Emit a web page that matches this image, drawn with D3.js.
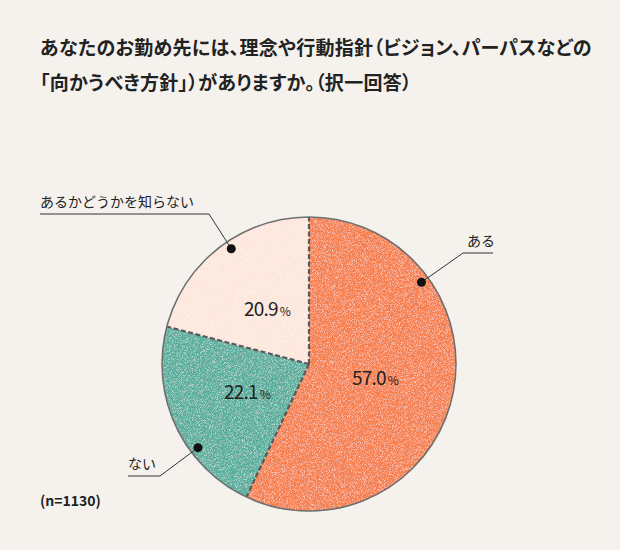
<!DOCTYPE html>
<html>
<head>
<meta charset="utf-8">
<script src="https://cdn.jsdelivr.net/npm/d3@7"></script>
<style>
  body { margin: 0; background: #f5f2ed; }
  text { font-family: "Noto Sans CJK JP", "Noto Sans", sans-serif; }
  .title { font-feature-settings: "palt"; }
</style>
</head>
<body>
<div class="chart"></div>
<script>
var categories = ["ある", "ない", "あるかどうかを知らない"];
var values = [57.0, 22.1, 20.9];
var colors = ["#f57f4e", "#58ae9c", "#fde6dc"];
var titleLines = [
  "あなたのお勤め先には、理念や行動指針（ビジョン、パーパスなどの",
  "「向かうべき方針」）がありますか。（択一回答）"
];
var note = "(n=1130)";

var svgWidth = 620;
var svgHeight = 550;
var cx = 309, cy = 364, radius = 147;

var svg = d3.select(".chart")
  .append("svg")
  .attr("width", svgWidth)
  .attr("height", svgHeight);

svg.append("rect")
  .attr("width", svgWidth)
  .attr("height", svgHeight)
  .attr("fill", "#f5f2ed");

// grain texture for the slices
var defs = svg.append("defs");
var grain = defs.append("filter").attr("id", "grain")
  .attr("x", 0).attr("y", 0).attr("width", "100%").attr("height", "100%");
grain.append("feTurbulence")
  .attr("type", "fractalNoise")
  .attr("baseFrequency", 1.4)
  .attr("numOctaves", 2)
  .attr("seed", 3)
  .attr("result", "noise");
grain.append("feColorMatrix")
  .attr("in", "noise")
  .attr("type", "matrix")
  .attr("values", "0 0 0 0 1  0 0 0 0 1  0 0 0 0 1  2.6 0 0 0 -1.2")
  .attr("result", "speck");
grain.append("feComposite")
  .attr("in", "speck").attr("in2", "SourceGraphic")
  .attr("operator", "in").attr("result", "speckIn");
grain.append("feComponentTransfer").attr("in", "speckIn").attr("result", "speckSoft")
  .append("feFuncA").attr("type", "linear").attr("slope", 0.55);
var merge = grain.append("feMerge");
merge.append("feMergeNode").attr("in", "SourceGraphic");
merge.append("feMergeNode").attr("in", "speckSoft");

// title
svg.append("g").selectAll("text")
  .data(titleLines)
  .enter()
  .append("text")
  .attr("class", "title")
  .attr("x", 40)
  .attr("y", (d, i) => 55 + i * 35)
  .attr("font-size", 19)
  .attr("letter-spacing", 0.3)
  .attr("font-weight", "bold")
  .attr("fill", "#222")
  .text(d => d);

var data = categories.map((c, i) => ({ name: c, value: values[i], color: colors[i] }));

var pie = d3.pie().sort(null).value(d => d.value);
var arcs = pie(data);
var arc = d3.arc().innerRadius(0).outerRadius(radius);
var labelArc = d3.arc().innerRadius(68).outerRadius(68);

var chartGroup = svg.append("g")
  .attr("transform", `translate(${cx}, ${cy})`);

chartGroup.selectAll("path.slice")
  .data(arcs)
  .enter()
  .append("path")
  .attr("class", "slice")
  .attr("d", arc)
  .attr("fill", d => d.data.color)
  .attr("filter", "url(#grain)");

// dashed dividers
chartGroup.selectAll("line.divider")
  .data(arcs)
  .enter()
  .append("line")
  .attr("class", "divider")
  .attr("x1", 0).attr("y1", 0)
  .attr("x2", d => radius * Math.sin(d.startAngle))
  .attr("y2", d => -radius * Math.cos(d.startAngle))
  .attr("stroke", "#5a5a5a")
  .attr("stroke-width", 2.2)
  .attr("stroke-dasharray", "5,2.5");

chartGroup.append("circle")
  .attr("r", radius)
  .attr("fill", "none")
  .attr("stroke", "#6e6e6e")
  .attr("stroke-width", 1.5);

// percentage labels
var pct = chartGroup.selectAll("text.pct")
  .data(arcs)
  .enter()
  .append("text")
  .attr("class", "pct")
  .attr("transform", d => `translate(${labelArc.centroid(d)})`)
  .attr("text-anchor", "middle")
  .attr("dy", "0.36em")
  .attr("fill", "#222");
pct.append("tspan").attr("font-size", 19).attr("letter-spacing", -0.8).text(d => d.value.toFixed(1));
pct.append("tspan").attr("font-size", 12).attr("dx", 2).text("%");

// leader lines: angle (deg from top) of the dot, elbow, end of the horizontal
var leaders = [
  { angle: 54, elbow: [463, 253], end: [493, 253], tx: 467, ty: 246, anchor: "start" },
  { angle: 233, elbow: [160, 476], end: [128, 476], tx: 128, ty: 469, anchor: "start" },
  { angle: 326, elbow: [209, 214], end: [40, 214], tx: 40, ty: 207, anchor: "start" }
];

var lg = svg.append("g");
leaders.forEach((l, i) => {
  var a = l.angle * Math.PI / 180;
  var r = 139;
  var dx = cx + r * Math.sin(a), dy = cy - r * Math.cos(a);
  lg.append("polyline")
    .attr("points", `${dx},${dy} ${l.elbow[0]},${l.elbow[1]} ${l.end[0]},${l.end[1]}`)
    .attr("fill", "none")
    .attr("stroke", "#333")
    .attr("stroke-width", 1);
  lg.append("circle")
    .attr("cx", dx).attr("cy", dy).attr("r", 4.5)
    .attr("fill", "#111");
  lg.append("text")
    .attr("x", l.tx).attr("y", l.ty)
    .attr("text-anchor", l.anchor)
    .attr("font-size", 14)
    .attr("fill", "#222")
    .text(categories[i]);
});

svg.append("text")
  .attr("x", 40)
  .attr("y", 506)
  .attr("font-size", 14)
  .attr("font-weight", "bold")
  .attr("fill", "#222")
  .text(note);
</script>
</body>
</html>
